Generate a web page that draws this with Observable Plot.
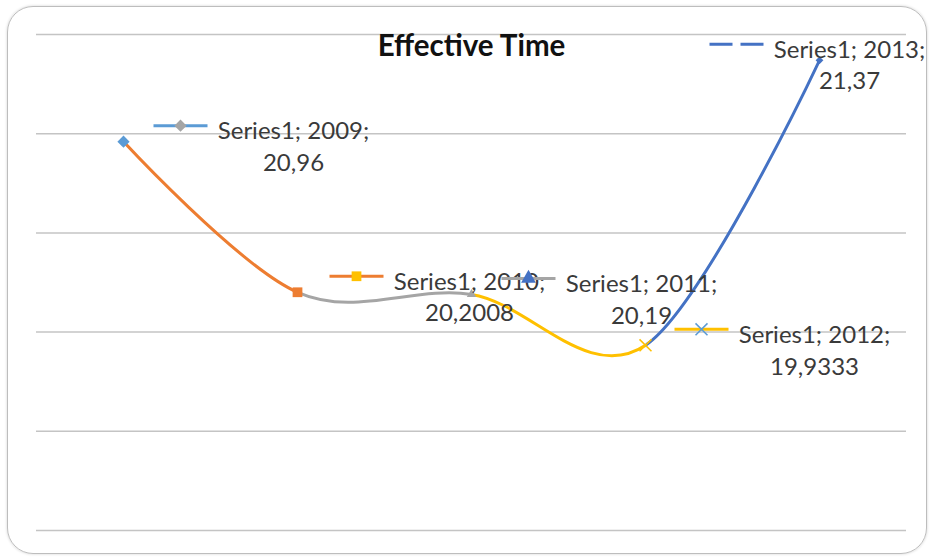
<!DOCTYPE html>
<html><head><meta charset="utf-8">
<script src="https://cdn.jsdelivr.net/npm/d3@7"></script>
<script src="https://cdn.jsdelivr.net/npm/@observablehq/plot@0.6"></script>
<style>
html,body{margin:0;padding:0;background:#fff;}
#wrap{position:relative;width:931px;height:557px;overflow:hidden;}
#border{position:absolute;left:7px;top:6px;width:920px;height:548px;border:1.5px solid #bdbdbd;border-radius:26px;box-shadow:0 0 3px rgba(0,0,0,0.18);box-sizing:border-box;pointer-events:none;}
</style></head><body>
<div id="wrap"><div id="chart"></div><div id="border"></div></div>
<script>
// ---- data ----
const title = "Effective Time";
const seriesName = "Series1";
const years = ["2009", "2010", "2011", "2012", "2013"];
const values = [20.96, 20.2008, 20.19, 19.9333, 21.37];
const valueLabels = ["20,96", "20,2008", "20,19", "19,9333", "21,37"];
const gridValues = [19, 19.5, 20, 20.5, 21, 21.5];

// ---- styles ----
const pointColors = ["#5B9BD5", "#ED7D31", "#A5A5A5", "#FFC000", "#4472C4"];
const keyMarkerColors = ["#A5A5A5", "#FFC000", "#4472C4", "#5B9BD5", "#4472C4"];
const markerSyms = ["diamond2", "square", "triangle", "times", "diamond2"];
const labelDx = [170, 172, 170, 169, 30];
const keyOffset = 113;

const data = years.map((year, i) => ({
  year, value: values[i],
  label: `${seriesName}; ${year};\n${valueLabels[i]}`
}));

const lineSym = {draw(ctx) { ctx.moveTo(-27, 0); ctx.lineTo(27, 0); }};

const marks = [
  Plot.ruleY(gridValues, {stroke: "#c4c4c4", strokeWidth: 1.5}),
  ...[1, 2, 3, 4].map(k => Plot.line(data, {x: "year", y: "value", curve: "cardinal", stroke: pointColors[k], strokeWidth: 3})),
];
data.forEach((d, i) => {
  const isStroke = markerSyms[i] === "times";
  marks.push(Plot.dot([d], {x: "year", y: "value", symbol: markerSyms[i], r: i === 2 || i === 4 ? 3.5 : 5.5,
    ...(isStroke ? {stroke: pointColors[i], strokeWidth: 1.5} : {fill: pointColors[i]})}));
});
data.forEach((d, i) => {
  marks.push(Plot.dot([d], {x: "year", y: "value", dx: labelDx[i] - keyOffset, dy: -16, symbol: lineSym, r: 5,
    stroke: pointColors[i], strokeWidth: 3, fill: "none", strokeDasharray: i === 4 ? "23,8" : null}));
  if (i < 4) {
    const isStroke = markerSyms[i] === "times";
    marks.push(Plot.dot([d], {x: "year", y: "value", dx: labelDx[i] - keyOffset, dy: -16, symbol: markerSyms[i], r: 5.5,
      ...(isStroke ? {stroke: keyMarkerColors[i], strokeWidth: 1.5} : {fill: keyMarkerColors[i]})}));
  }
  marks.push(Plot.text([d], {x: "year", y: "value", dx: labelDx[i], dy: 3, text: "label",
    fontSize: 24, fill: "#3a3a3a", lineHeight: 1.33, lineAnchor: "middle"}));
});
marks.push(Plot.text([title], {frameAnchor: "top", dy: 1, lineAnchor: "top", fontSize: 29.5, fontWeight: "bold", fill: "#111111"}));

const chart = Plot.plot({
  width: 931, height: 557,
  marginLeft: 36, marginRight: 25, marginTop: 34, marginBottom: 27,
  style: {fontFamily: "Lato, 'Open Sans', sans-serif", background: "transparent"},
  x: {type: "point", domain: years, padding: 0.5, axis: null},
  y: {domain: [19, 21.5], axis: null},
  marks
});
document.getElementById("chart").appendChild(chart);

// colour each smooth segment by clipping the full curve to its x-interval
const xs = chart.scale("x");
const svg = d3.select(chart);
const defs = svg.append("defs");
svg.selectAll('g[aria-label="line"]').nodes().forEach((g, j) => {
  const x0 = xs.apply(years[j]), x1 = xs.apply(years[j + 1]);
  const id = "segclip" + j;
  defs.append("clipPath").attr("id", id).append("rect")
    .attr("x", x0).attr("y", 0).attr("width", x1 - x0).attr("height", 557);
  d3.select(g).attr("clip-path", `url(#${id})`);
});
</script>
</body></html>
